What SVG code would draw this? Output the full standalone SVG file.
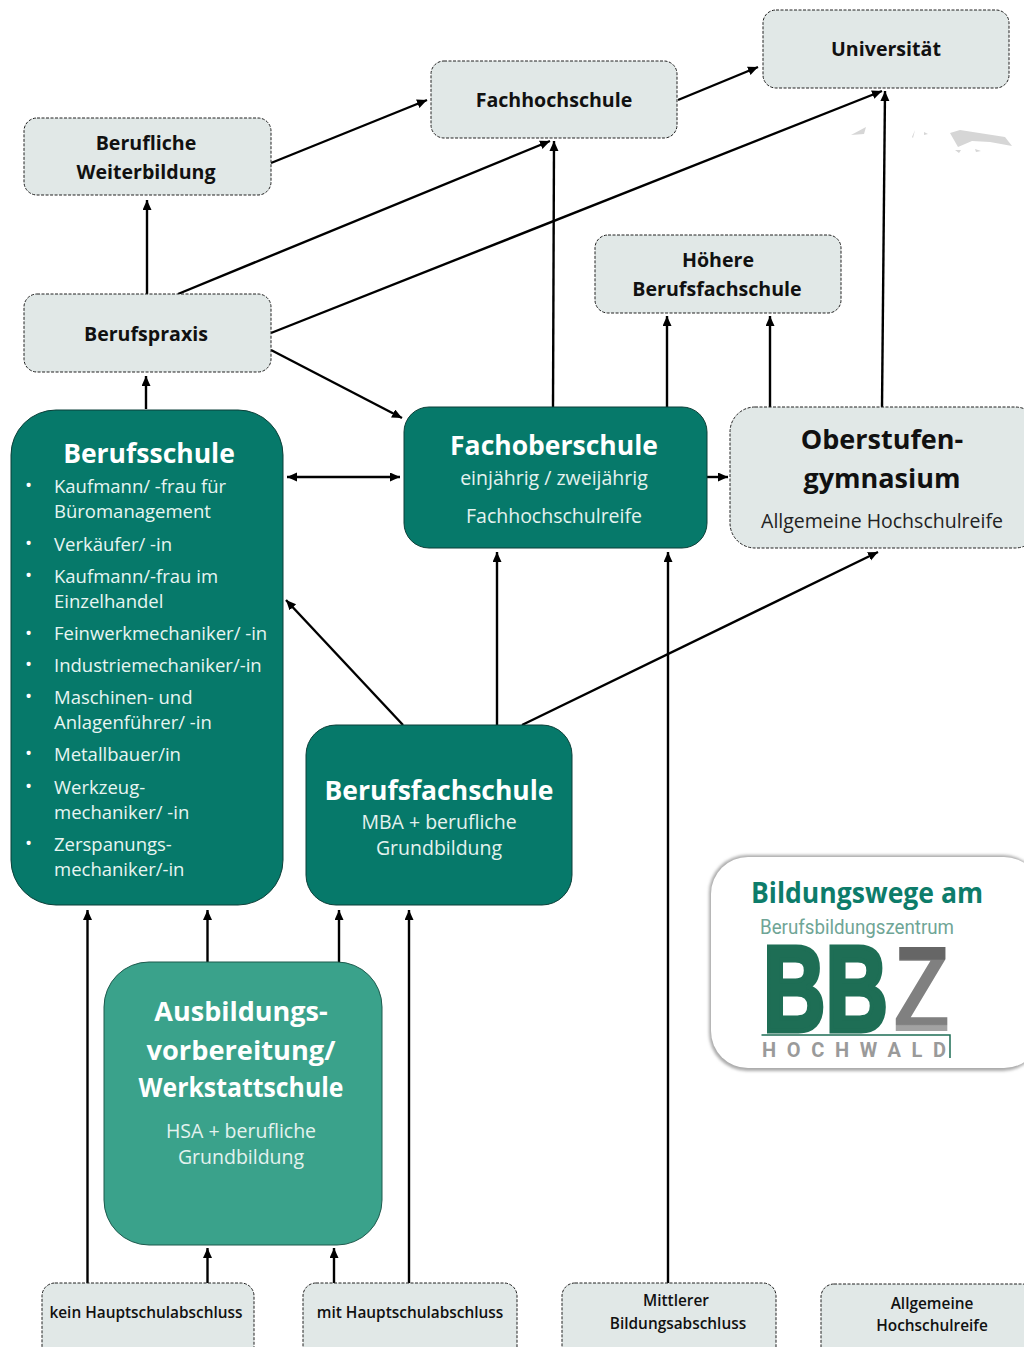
<svg xmlns="http://www.w3.org/2000/svg" width="1024" height="1347" viewBox="0 0 1024 1347">
<defs>
<marker id="a" markerUnits="userSpaceOnUse" markerWidth="12" markerHeight="10" refX="10" refY="4.500" orient="auto-start-reverse"><path d="M0 0L10 4.500L0 9z" fill="#000"/></marker>
<filter id="sh" x="-5%" y="-5%" width="110%" height="110%"><feGaussianBlur stdDeviation="1.800"/></filter>
<linearGradient id="zg" x1="0" y1="0" x2="0" y2="1"><stop offset="0.280" stop-color="#666"/><stop offset="0.290" stop-color="#808080"/><stop offset="0.760" stop-color="#808080"/><stop offset="0.770" stop-color="#a2a2a2"/></linearGradient>
</defs>
<style>
text{font-family:"Open Sans","Noto Sans","Liberation Sans",sans-serif}
.g{fill:#e1e8e7;stroke:#222;stroke-width:1;stroke-dasharray:3 1.500}
.t{fill:#06796a;stroke:#0b3f38;stroke-width:1}
.l{fill:#3aa28b;stroke:#1d5a4d;stroke-width:1}
.h{font-weight:700;fill:#111;text-anchor:middle;font-size:19.600px}
.s{font-weight:600;fill:#111;text-anchor:middle;font-size:15.400px}
.wb{fill:#fff;text-anchor:middle;font-weight:700;font-size:26.500px}
.wl{fill:#e4f2ef;text-anchor:middle;font-size:19.500px}
.li{fill:#e8f5f2;font-size:18.500px}
.d{fill:#fff;font-size:19px}
#connectors line{stroke:#000;stroke-width:2.400;marker-end:url(#a)}
</style>
<g id="smudges" fill="#d6d6d6">
<path d="M950 133L960 130L1005 137L1012 146L990 142L972 141L958 147z"/><path d="M851 135L866 127L864 134z"/><path d="M912 137L915 130L913 138zM924 132L928 134L924 135z"/><path d="M955 150L961 150L959 153z M975 149L981 151L976 152z"/>
</g>
<g id="connectors">
<line x1="147" y1="294" x2="147" y2="200"/>
<line x1="271" y1="163" x2="427" y2="100"/>
<line x1="678" y1="100" x2="758" y2="67"/>
<line x1="178" y1="294" x2="550" y2="141"/>
<line x1="271" y1="333" x2="882" y2="91"/>
<line x1="271" y1="350" x2="402" y2="418"/>
<line x1="553" y1="407" x2="554" y2="141"/>
<line x1="667" y1="407" x2="667" y2="316"/>
<line x1="770" y1="407" x2="770" y2="316"/>
<line x1="882" y1="407" x2="885" y2="91"/>
<line x1="146" y1="409" x2="146" y2="376"/>
<line x1="287" y1="477" x2="400" y2="477" style="marker-start:url(#a)"/>
<line x1="707" y1="477" x2="728" y2="477"/>
<line x1="497" y1="725" x2="497" y2="552"/>
<line x1="668" y1="1283" x2="668" y2="552"/>
<line x1="522" y1="725" x2="878" y2="552"/>
<line x1="403" y1="725" x2="286" y2="600"/>
<line x1="87.500" y1="1283" x2="87.500" y2="910"/>
<line x1="207.500" y1="962" x2="207.500" y2="910"/>
<line x1="339" y1="967" x2="339" y2="910"/>
<line x1="409" y1="1283" x2="409" y2="910"/>
<line x1="207.500" y1="1283" x2="207.500" y2="1248"/>
<line x1="334" y1="1283" x2="334" y2="1248"/>
</g>
<g id="universitaet"><rect class="g" x="763" y="10" width="246" height="78" rx="13"/><text class="h" x="886" y="56">Universität</text></g>
<g id="fachhochschule"><rect class="g" x="431" y="61" width="246" height="77" rx="13"/><text class="h" x="554" y="107">Fachhochschule</text></g>
<g id="weiterbildung"><rect class="g" x="24" y="118" width="247" height="77" rx="13"/><text class="h" x="146" y="150">Berufliche</text><text class="h" x="146" y="179">Weiterbildung</text></g>
<g id="hoehere"><rect class="g" x="595" y="235" width="246" height="78" rx="13"/><text class="h" x="718" y="267">Höhere</text><text class="h" x="717" y="296">Berufsfachschule</text></g>
<g id="berufspraxis"><rect class="g" x="24" y="294" width="247" height="78" rx="13"/><text class="h" x="146" y="341">Berufspraxis</text></g>
<g id="berufsschule"><rect class="t" x="11" y="410" width="272" height="495" rx="45"/>
<text class="wb" x="149" y="463">Berufsschule</text>
<text class="d" x="25" y="492">•</text><text class="li" x="54" y="493">Kaufmann/ -frau für</text><text class="li" x="54" y="518">Büromanagement</text>
<text class="d" x="25" y="550">•</text><text class="li" x="54" y="551">Verkäufer/ -in</text>
<text class="d" x="25" y="582">•</text><text class="li" x="54" y="583">Kaufmann/-frau im</text><text class="li" x="54" y="608">Einzelhandel</text>
<text class="d" x="25" y="640">•</text><text class="li" x="54" y="640">Feinwerkmechaniker/ -in</text>
<text class="d" x="25" y="671">•</text><text class="li" x="54" y="672">Industriemechaniker/-in</text>
<text class="d" x="25" y="703">•</text><text class="li" x="54" y="704">Maschinen- und</text><text class="li" x="54" y="729">Anlagenführer/ -in</text>
<text class="d" x="25" y="760">•</text><text class="li" x="54" y="761">Metallbauer/in</text>
<text class="d" x="25" y="793">•</text><text class="li" x="54" y="794">Werkzeug-</text><text class="li" x="54" y="819">mechaniker/ -in</text>
<text class="d" x="25" y="850">•</text><text class="li" x="54" y="851">Zerspanungs-</text><text class="li" x="54" y="876">mechaniker/-in</text>
</g>
<g id="fachoberschule"><rect class="t" x="404" y="407" width="303" height="141" rx="25"/><text class="wb" x="554" y="455">Fachoberschule</text><text class="wl" x="554" y="485">einjährig / zweijährig</text><text class="wl" x="554" y="523">Fachhochschulreife</text></g>
<g id="oberstufe"><rect class="g" x="730" y="407" width="310" height="141" rx="25"/><text class="h" style="font-size:27px" x="882" y="449">Oberstufen-</text><text class="h" style="font-size:27px" x="882" y="488">gymnasium</text><text x="882" y="528" text-anchor="middle" font-size="19.500" fill="#222">Allgemeine Hochschulreife</text></g>
<g id="berufsfachschule"><rect class="t" x="306" y="725" width="266" height="180" rx="30"/><text class="wb" x="439" y="800">Berufsfachschule</text><text class="wl" x="439" y="829">MBA + berufliche</text><text class="wl" x="439" y="855">Grundbildung</text></g>
<g id="ausbildung"><rect class="l" x="104" y="962" width="278" height="283" rx="45"/><text class="wb" x="241" y="1021" style="font-size:27px">Ausbildungs-</text><text class="wb" x="241" y="1060" style="font-size:27px" textLength="189" lengthAdjust="spacingAndGlyphs">vorbereitung/</text><text class="wb" x="241" y="1097" textLength="205" lengthAdjust="spacingAndGlyphs">Werkstattschule</text><text class="wl" x="241" y="1138">HSA + berufliche</text><text class="wl" x="241" y="1164">Grundbildung</text></g>
<g id="kein"><rect class="g" x="42" y="1283" width="212" height="78" rx="13"/><text class="s" x="146" y="1318">kein Hauptschulabschluss</text></g>
<g id="mit"><rect class="g" x="303" y="1283" width="214" height="78" rx="13"/><text class="s" x="410" y="1318">mit Hauptschulabschluss</text></g>
<g id="mittlerer"><rect class="g" x="562" y="1283" width="214" height="78" rx="13"/><text class="s" x="676" y="1306">Mittlerer</text><text class="s" x="678" y="1329">Bildungsabschluss</text></g>
<g id="hochschulreife"><rect class="g" x="821" y="1284" width="214" height="78" rx="13"/><text class="s" x="932" y="1309">Allgemeine</text><text class="s" x="932" y="1331">Hochschulreife</text></g>
<g id="logo">
<rect x="709" y="855" width="332" height="216" rx="38" fill="#aaa" filter="url(#sh)"/>
<rect x="711" y="857" width="330" height="211" rx="37" fill="#fff"/>
<text x="867" y="903" text-anchor="middle" font-size="28" font-weight="700" fill="#0d7c6a" textLength="232" lengthAdjust="spacingAndGlyphs">Bildungswege am</text>
<text x="857" y="934" text-anchor="middle" font-size="21" fill="#6fa596" style="font-family:'Liberation Sans Narrow','Roboto',sans-serif" textLength="194" lengthAdjust="spacingAndGlyphs">Berufsbildungszentrum</text>
<text x="763" y="1031" font-size="122" font-weight="700" fill="#1e6e55" style="font-family:'Liberation Sans',sans-serif;stroke:#1e6e55;stroke-width:5" textLength="125" lengthAdjust="spacingAndGlyphs">BB</text>
<text x="893" y="1031" font-size="122" font-weight="700" fill="url(#zg)" style="font-family:'Liberation Sans',sans-serif" textLength="57" lengthAdjust="spacingAndGlyphs">Z</text>
<path d="M761.500 1035H950V1058" fill="none" stroke="#1e6e55" stroke-width="1.500"/>
<text x="762" y="1057" font-size="20" font-weight="700" fill="#9a9a9a" style="font-family:'Liberation Sans Narrow','Roboto',sans-serif" textLength="184">HOCHWALD</text>
</g>
</svg>
